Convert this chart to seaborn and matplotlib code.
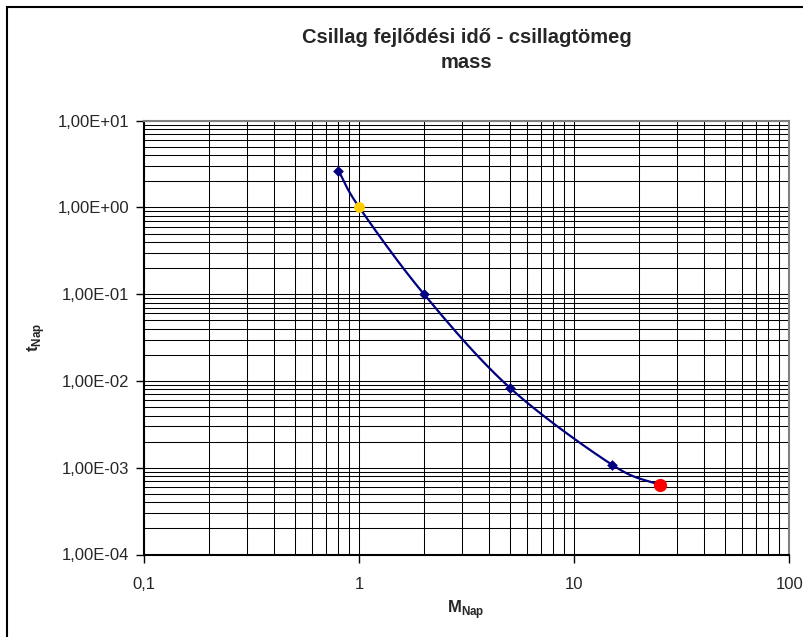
import numpy as np
import pandas as pd
import matplotlib
matplotlib.use("Agg")
import matplotlib.pyplot as plt
from matplotlib.patches import Rectangle
from matplotlib.ticker import FixedLocator, FixedFormatter, LogLocator, NullFormatter
import seaborn as sns

# Stellar lifetime (in solar units) versus stellar mass (in solar masses)
mass = [0.8, 1.0, 2.0, 5.0, 15.0, 25.0]
t_life = [2.65, 1.0, 0.1, 8.4e-3, 1.08e-3, 6.3e-4]

x_ticks = [0.1, 1, 10, 100]
x_tick_labels = ["0,1", "1", "10", "100"]
y_ticks = [1e-4, 1e-3, 1e-2, 1e-1, 1, 10]
y_tick_labels = ["1,00E-04", "1,00E-03", "1,00E-02", "1,00E-01", "1,00E+00", "1,00E+01"]

title_text = "Csillag fejlődési idő - csillagtömeg\nmass"

sns.set_theme(style="white")
plt.rcParams["font.family"] = ["Liberation Sans", "DejaVu Sans"]
plt.rcParams["mathtext.fontset"] = "custom"
plt.rcParams["mathtext.rm"] = "Liberation Sans"
plt.rcParams["mathtext.bf"] = "Liberation Sans:bold"

W, H = 804, 637
fig = plt.figure(figsize=(W / 100, H / 100), dpi=100)
fig.patch.set_facecolor("white")

x0, x1 = 144.3, 789.3
y0, y1 = 120.7, 554.5
ax = fig.add_axes([x0 / W, 1 - y1 / H, (x1 - x0) / W, (y1 - y0) / H])
ax.set_facecolor("white")
ax.set_xscale("log")
ax.set_yscale("log")
ax.set_xlim(0.1, 100)
ax.set_ylim(1e-4, 10)


def smooth_curve(xs, ys, n=40):
    """Catmull-Rom spline through the points, computed in log-log space."""
    lx, ly = np.log10(xs), np.log10(ys)
    P = np.column_stack([lx, ly])
    P = np.vstack([P[0] - (P[1] - P[0]), P, P[-1] + (P[-1] - P[-2])])
    out = []
    for i in range(1, len(P) - 2):
        p0, p1, p2, p3 = P[i - 1], P[i], P[i + 1], P[i + 2]
        t = np.linspace(0, 1, n)[:, None]
        seg = 0.5 * ((2 * p1) + (-p0 + p2) * t + (2 * p0 - 5 * p1 + 4 * p2 - p3) * t ** 2
                     + (-p0 + 3 * p1 - 3 * p2 + p3) * t ** 3)
        out.append(seg if i == len(P) - 3 else seg[:-1])
    out = np.vstack(out)
    return 10 ** out[:, 0], 10 ** out[:, 1]


cx, cy = smooth_curve(mass, t_life)
curve = pd.DataFrame({"M": cx, "t": cy})
sns.lineplot(data=curve, x="M", y="t", ax=ax, color="#000080", lw=1.6,
             sort=False, estimator=None, zorder=4)

pts = pd.DataFrame({"M": mass, "t": t_life})
sns.scatterplot(data=pts.iloc[[0, 2, 3, 4]], x="M", y="t", ax=ax, marker="D",
                color="#000080", s=30, edgecolor="#000080", linewidth=0, zorder=5)
sns.scatterplot(data=pts.iloc[[1]], x="M", y="t", ax=ax, marker="o",
                color="#FFCC00", s=60, edgecolor="#FFCC00", linewidth=0, zorder=6)
sns.scatterplot(data=pts.iloc[[5]], x="M", y="t", ax=ax, marker="o",
                color="#FF0000", s=90, edgecolor="#FF0000", linewidth=0, zorder=6)

# ticks and grid
ax.xaxis.set_major_locator(FixedLocator(x_ticks))
ax.xaxis.set_major_formatter(FixedFormatter(x_tick_labels))
ax.yaxis.set_major_locator(FixedLocator(y_ticks))
ax.yaxis.set_major_formatter(FixedFormatter(y_tick_labels))
ax.xaxis.set_minor_locator(LogLocator(base=10, subs=np.arange(2, 10), numticks=20))
ax.yaxis.set_minor_locator(LogLocator(base=10, subs=np.arange(2, 10), numticks=20))
ax.xaxis.set_minor_formatter(NullFormatter())
ax.yaxis.set_minor_formatter(NullFormatter())
ax.grid(which="both", color="black", lw=0.75)
ax.set_axisbelow(True)
ax.tick_params(which="major", direction="out", length=6, width=1, color="black",
               labelsize=12, pad=5, left=True, bottom=True)
ax.tick_params(which="minor", length=0)
ax.tick_params(axis="x", pad=10)

for side in ["left", "bottom"]:
    ax.spines[side].set_color("black")
    ax.spines[side].set_linewidth(1.5)
for side in ["top", "right"]:
    ax.spines[side].set_color("#808080")
    ax.spines[side].set_linewidth(1.5)

ax.set_xlabel(r"$\mathbf{M}_{\mathbf{Nap}}$", fontsize=12)
ax.set_ylabel(r"$\mathbf{t}_{\mathbf{Nap}}$", fontsize=12)
ax.xaxis.set_label_coords((466 - x0) / (x1 - x0), -(610 - y1) / (y1 - y0))
ax.yaxis.set_label_coords((36 - x0) / (x1 - x0), 0.5)
ax.xaxis.label.set_va("center")
ax.yaxis.label.set_va("center")

fig.text((x0 + x1) / 2 / W, 1 - 50 / H, title_text, ha="center", va="center",
         fontsize=14.5, fontweight="bold", linespacing=1.45)

# chart frame
fig.patches.append(Rectangle((7 / W, -0.1), 1.2, 1 - 7 / H + 0.1, transform=fig.transFigure,
                             fill=False, edgecolor="black", lw=1.5, zorder=10))

fig.savefig("out.png", dpi=100)
